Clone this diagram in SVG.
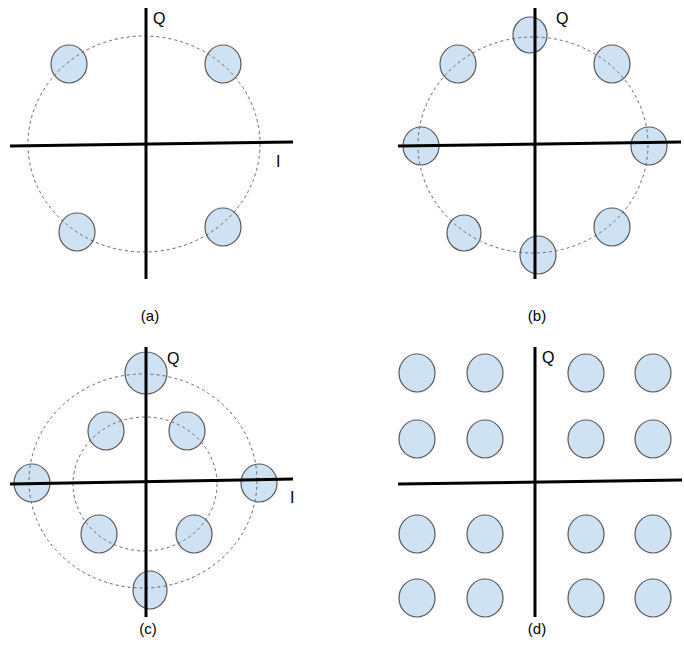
<svg xmlns="http://www.w3.org/2000/svg" width="684" height="646" viewBox="0 0 684 646">
<style>
.dot{fill:#cfe2f3;stroke:#595959;stroke-width:1.2}
.ring{fill:none;stroke:#666;stroke-width:1;stroke-dasharray:3,3}
.axis{stroke:#000;stroke-width:3;fill:none}
.lbl{font-family:"Liberation Sans",Arial,sans-serif;font-size:16px;fill:#000}
.cap{font-family:"Liberation Sans",Arial,sans-serif;font-size:15px;fill:#000;text-anchor:middle}
</style>
<rect width="684" height="646" fill="#fff"/>
<g id="panel-a">
  <g id="a-dots">
    <ellipse class="dot" cx="69" cy="64" rx="18" ry="19"/>
    <ellipse class="dot" cx="223" cy="64" rx="18" ry="19"/>
    <ellipse class="dot" cx="77" cy="232" rx="18" ry="19"/>
    <ellipse class="dot" cx="223" cy="227" rx="18" ry="19"/>
  </g>
  <ellipse class="ring" cx="144" cy="144" rx="116" ry="108"/>
  <g id="a-axes">
    <line class="axis" x1="146" y1="8" x2="146" y2="279"/>
    <line class="axis" x1="10" y1="146" x2="293" y2="142"/>
  </g>
  <text class="lbl" x="153" y="24">Q</text>
  <text class="lbl" x="276" y="167">I</text>
  <text class="cap" x="150" y="321">(a)</text>
</g>
<g id="panel-b">
  <g id="b-dots">
    <ellipse class="dot" cx="530" cy="35" rx="17" ry="18"/>
    <ellipse class="dot" cx="458" cy="64" rx="18" ry="19"/>
    <ellipse class="dot" cx="612" cy="64" rx="18" ry="19"/>
    <ellipse class="dot" cx="421" cy="146" rx="18" ry="19"/>
    <ellipse class="dot" cx="649" cy="146" rx="18" ry="19"/>
    <ellipse class="dot" cx="464" cy="233" rx="17" ry="18"/>
    <ellipse class="dot" cx="538" cy="255" rx="18" ry="19"/>
    <ellipse class="dot" cx="612" cy="227" rx="18" ry="19"/>
  </g>
  <ellipse class="ring" cx="533" cy="145" rx="115" ry="108"/>
  <g id="b-axes">
    <line class="axis" x1="535" y1="8" x2="535" y2="279"/>
    <line class="axis" x1="398" y1="146" x2="681" y2="142"/>
  </g>
  <text class="lbl" x="556" y="24">Q</text>
  <text class="cap" x="537" y="321">(b)</text>
</g>
<g id="panel-c">
  <g id="c-dots">
    <ellipse class="dot" cx="146" cy="373" rx="21" ry="21"/>
    <ellipse class="dot" cx="32" cy="483" rx="18" ry="19"/>
    <ellipse class="dot" cx="259" cy="483" rx="18" ry="19"/>
    <ellipse class="dot" cx="150" cy="590" rx="17" ry="19"/>
    <ellipse class="dot" cx="106" cy="431" rx="18" ry="19"/>
    <ellipse class="dot" cx="187" cy="431" rx="18" ry="19"/>
    <ellipse class="dot" cx="99" cy="534" rx="18" ry="19"/>
    <ellipse class="dot" cx="194" cy="534" rx="18" ry="19"/>
  </g>
  <ellipse class="ring" cx="143" cy="481" rx="114" ry="107"/>
  <ellipse class="ring" cx="145" cy="484" rx="72" ry="67"/>
  <g id="c-axes">
    <line class="axis" x1="146" y1="347" x2="146" y2="617"/>
    <line class="axis" x1="10" y1="484" x2="293" y2="479"/>
  </g>
  <text class="lbl" x="167" y="364">Q</text>
  <text class="lbl" x="290" y="503">I</text>
  <text class="cap" x="148" y="634">(c)</text>
</g>
<g id="panel-d">
  <g id="d-dots">
    <ellipse class="dot" cx="417" cy="373" rx="18" ry="19"/>
    <ellipse class="dot" cx="485" cy="373" rx="18" ry="19"/>
    <ellipse class="dot" cx="586" cy="373" rx="18" ry="19"/>
    <ellipse class="dot" cx="653" cy="373" rx="18" ry="19"/>
    <ellipse class="dot" cx="417" cy="439" rx="18" ry="19"/>
    <ellipse class="dot" cx="485" cy="439" rx="18" ry="19"/>
    <ellipse class="dot" cx="586" cy="439" rx="18" ry="19"/>
    <ellipse class="dot" cx="653" cy="439" rx="18" ry="19"/>
    <ellipse class="dot" cx="417" cy="534" rx="18" ry="19"/>
    <ellipse class="dot" cx="485" cy="534" rx="18" ry="19"/>
    <ellipse class="dot" cx="586" cy="534" rx="18" ry="19"/>
    <ellipse class="dot" cx="653" cy="534" rx="18" ry="19"/>
    <ellipse class="dot" cx="417" cy="598" rx="18" ry="19"/>
    <ellipse class="dot" cx="485" cy="598" rx="18" ry="19"/>
    <ellipse class="dot" cx="586" cy="598" rx="18" ry="19"/>
    <ellipse class="dot" cx="653" cy="598" rx="18" ry="19"/>
  </g>
  <g id="d-axes">
    <line class="axis" x1="535" y1="347" x2="535" y2="617"/>
    <line class="axis" x1="398" y1="484" x2="682" y2="480"/>
  </g>
  <text class="lbl" x="542" y="363">Q</text>
  <text class="cap" x="537" y="634">(d)</text>
</g>
</svg>
